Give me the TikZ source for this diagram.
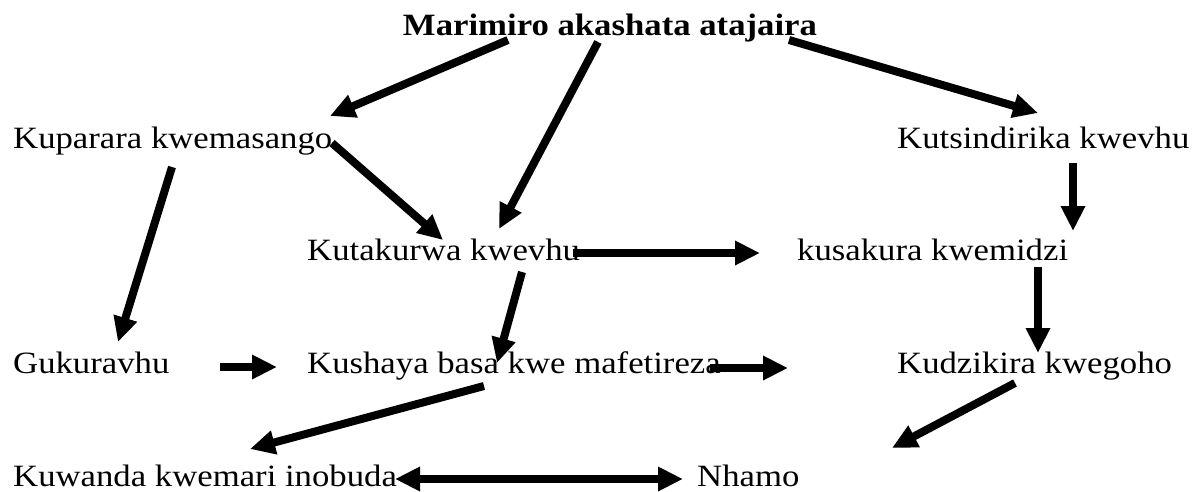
\documentclass[tikz,border=0pt]{standalone}
\usepackage{fontspec}
\setmainfont{Liberation Serif}[FakeStretch=1.12]
\usetikzlibrary{arrows.meta,calc}
\tikzset{lbl/.style={inner sep=0pt,anchor=base west,font=\fontsize{31}{37}\selectfont},
  arr/.style={-{Triangle[length=25pt,width=23pt]},line width=8pt},
  darr/.style={{Triangle[length=25pt,width=23pt]}-{Triangle[length=25pt,width=23pt]},line width=8pt}}

\begin{document}
\begin{tikzpicture}[x=1pt,y=-1pt]
\useasboundingbox (0,0) rectangle (1195,491);
% labels
\node[lbl,anchor=base,font=\fontsize{31}{37}\selectfont\bfseries] (mar) at (610,35) {Marimiro akashata atajaira};
\node[lbl] (kup) at (13,148) {Kuparara kwemasango};
\node[lbl] (kuts) at (897,148) {Kutsindirika kwevhu};
\node[lbl] (kut) at (307,260) {Kutakurwa kwevhu};
\node[lbl] (kus) at (797,260) {kusakura kwemidzi};
\node[lbl] (guk) at (13,373) {Gukuravhu};
\node[lbl] (kush) at (307,373) {Kushaya basa kwe mafetireza};
\node[lbl] (kud) at (897,373) {Kudzikira kwegoho};
\node[lbl] (kuw) at (13,486) {Kuwanda kwemari inobuda};
\node[lbl] (nha) at (697,486) {Nhamo};
\coordinate (e1) at (788,368);
\coordinate (e2) at (892,448);
% arrows
\draw[arr] ($(mar.base)+(-102,5)$) -- ($(kup.base west)+(317,-32)$);
\draw[arr] ($(mar.base)+(-12,7)$) -- ($(kut.base west)+(192,-31)$);
\draw[arr] ($(mar.base)+(179,5)$) -- ($(kuts.base west)+(141,-35)$);
\draw[arr] ($(kup.base west)+(319,-5)$) -- ($(kut.base west)+(136,-20)$);
\draw[arr] ($(kup.base west)+(159,19)$) -- ($(guk.base west)+(105,-31)$);
\draw[arr] ($(kuts.base west)+(176,15)$) -- ($(kus.base west)+(276,-29)$);
\draw[arr] ($(kut.base west)+(266,-7)$) -- ($(kus.base west)+(-37,-7)$);
\draw[arr] ($(kut.base west)+(215,12)$) -- ($(kush.base west)+(190,-10)$);
\draw[arr] ($(kus.base west)+(241,7)$) -- ($(kud.base west)+(141,-20)$);
\draw[arr] ($(guk.base west)+(207,-6)$) -- ($(kush.base west)+(-30,-6)$);
\draw[arr] ($(kush.base west)+(403,-5)$) -- (e1);
\draw[arr] ($(kush.base west)+(177,13)$) -- ($(kuw.base west)+(237,-37)$);
\draw[arr] ($(kud.base west)+(118,10)$) -- (e2);
\draw[darr] ($(kuw.base west)+(382,-7)$) -- ($(nha.base west)+(-14,-7)$);
\end{tikzpicture}
\end{document}
